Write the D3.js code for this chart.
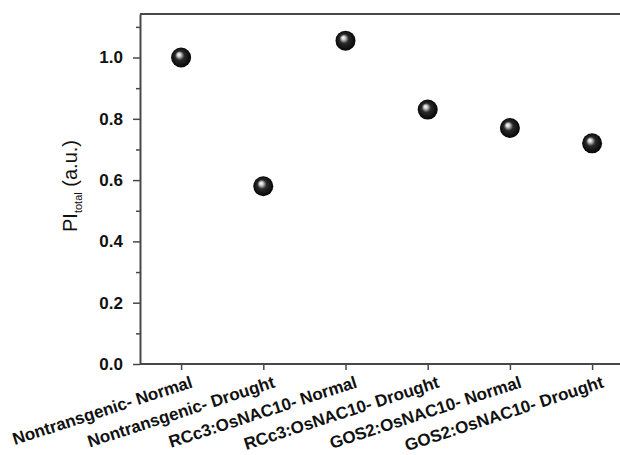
<!DOCTYPE html>
<html>
<head>
<meta charset="utf-8">
<script src="https://cdn.jsdelivr.net/npm/d3@7/dist/d3.min.js"></script>
<style>
  body { margin: 0; background: #fff; }
  svg { display: block; font-family: "Liberation Sans", Arial, sans-serif; }
</style>
</head>
<body>
<script>
// categories and PI total values
var categories = [
    "Nontransgenic- Normal",
    "Nontransgenic- Drought",
    "RCc3:OsNAC10- Normal",
    "RCc3:OsNAC10- Drought",
    "GOS2:OsNAC10- Normal",
    "GOS2:OsNAC10- Drought"
];
var piTotal = [1.00, 0.58, 1.055, 0.83, 0.77, 0.72];
var yTicks = [0.0, 0.2, 0.4, 0.6, 0.8, 1.0];
var yMinorTicks = [0.1, 0.3, 0.5, 0.7, 0.9, 1.1];

var width = 620, height = 455;
var margin = {top: 14, left: 140, bottom: 91};
var step = 82.2;
var axisColor = "#484848";

var svg = d3.select("body").append("svg")
    .attr("width", width)
    .attr("height", height);

var defs = svg.append("defs");
var grad = defs.append("radialGradient")
    .attr("id", "ball")
    .attr("cx", "50%").attr("cy", "50%").attr("r", "55%")
    .attr("fx", "38%").attr("fy", "34%");
grad.append("stop").attr("offset", "0%").attr("stop-color", "#ffffff");
grad.append("stop").attr("offset", "16%").attr("stop-color", "#d0d0d0");
grad.append("stop").attr("offset", "42%").attr("stop-color", "#2a2a2a");
grad.append("stop").attr("offset", "100%").attr("stop-color", "#000000");

var x = d3.scaleLinear()
    .domain([-0.5, categories.length - 0.5])
    .range([margin.left, margin.left + step * categories.length]);

var y = d3.scaleLinear()
    .domain([0, 1.142])
    .range([height - margin.bottom, margin.top]);

// top frame line
svg.append("line")
    .attr("x1", x(-0.5)).attr("x2", width)
    .attr("y1", y(1.142)).attr("y2", y(1.142))
    .attr("stroke", axisColor)
    .attr("stroke-width", 2);

// minor ticks on y
svg.append("g")
    .attr("transform", "translate(" + margin.left + ",0)")
    .call(d3.axisLeft(y).tickValues(yMinorTicks).tickSize(4).tickFormat(""))
    .call(function(g) { g.select(".domain").remove(); })
    .selectAll("line")
    .attr("stroke", axisColor)
    .attr("stroke-width", 1.5);

// y axis
var yAxis = svg.append("g")
    .attr("transform", "translate(" + margin.left + ",0)")
    .call(d3.axisLeft(y).tickValues(yTicks).tickSize(7).tickSizeOuter(0).tickPadding(10)
        .tickFormat(d3.format(".1f")));
yAxis.select(".domain")
    .attr("stroke", axisColor)
    .attr("stroke-width", 2);
yAxis.selectAll(".tick line")
    .attr("stroke", axisColor)
    .attr("stroke-width", 1.5);
yAxis.selectAll("text")
    .attr("fill", "#111")
    .style("font-size", "17px")
    .style("font-weight", "bold");

// x axis
var xAxis = svg.append("g")
    .attr("transform", "translate(0," + y(0) + ")")
    .call(d3.axisBottom(x).tickValues(d3.range(categories.length)).tickSize(6).tickSizeOuter(0)
        .tickFormat(function(i) { return categories[i]; }));
xAxis.select(".domain")
    .attr("stroke", axisColor)
    .attr("stroke-width", 2)
    .attr("d", "M" + x(-0.5) + ",0H" + width);
xAxis.selectAll(".tick line")
    .attr("stroke", axisColor)
    .attr("stroke-width", 1.5);
xAxis.selectAll("text")
    .attr("fill", "#111")
    .attr("text-anchor", "end")
    .attr("x", 0).attr("y", 0).attr("dy", 0)
    .attr("transform", "translate(12,23) rotate(-18)")
    .style("font-size", "17px")
    .style("font-weight", "bold");

// y label
var ylab = svg.append("text")
    .attr("transform", "translate(77,186) rotate(-90)")
    .attr("text-anchor", "middle")
    .attr("fill", "#111")
    .style("font-size", "20px");
ylab.append("tspan").text("PI");
ylab.append("tspan").attr("dy", 5).style("font-size", "11px").text("total");
ylab.append("tspan").attr("dy", -5).text(" (a.u.)");

// points
svg.append("g")
    .selectAll("circle")
    .data(piTotal)
    .join("circle")
    .attr("cx", function(d, i) { return x(i); })
    .attr("cy", function(d) { return y(d); })
    .attr("r", 10)
    .attr("fill", "url(#ball)");
</script>
</body>
</html>
